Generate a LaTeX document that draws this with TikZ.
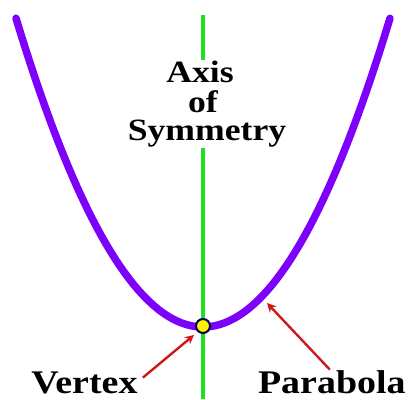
\documentclass[tikz,border=0pt]{standalone}
\usepackage{fontspec}
\setmainfont{Liberation Serif}
\newfontfamily\labelfont[FakeStretch=1.15]{Liberation Serif}
\usetikzlibrary{arrows.meta,positioning}
\definecolor{parapurple}{RGB}{125,0,250}
\definecolor{axisgreen}{RGB}{30,225,30}
\definecolor{arrowred}{RGB}{205,25,25}
\tikzset{every picture/.style={line width=0.75pt}}

\begin{document}
\begin{tikzpicture}[x=1pt,y=-1pt,
    toplbl/.style={font=\labelfont\fontsize{31}{31}\selectfont\bfseries, inner sep=0pt, anchor=base, text height=20pt, text depth=0pt},
    botlbl/.style={font=\labelfont\fontsize{33}{33}\selectfont\bfseries, inner sep=0pt, text height=23pt, text depth=0pt},
    pointer/.style={arrowred, line width=2.4pt, -{Stealth[length=9pt,width=9pt]}}]
    \useasboundingbox (0,0) rectangle (409,399);
    % axis of symmetry
    \node[toplbl] (axisA) at (200,82) {Axis};
    \node[toplbl] (axisB) at (203,112) {of};
    \node[toplbl] (axisC) at (207,140) {Symmetry};
    \coordinate (axtop) at (203,15);
    \coordinate (axgap1) at (203,60);
    \coordinate (axgap2) at (203,148);
    \coordinate (axbot) at (203,399);
    \draw[axisgreen, line width=4.5pt] (axtop) -- (axgap1);
    \draw[axisgreen, line width=4.5pt] (axgap2) -- (axbot);
    
    % the parabola
    \draw[parapurple, line width=7.5pt, line cap=round, domain=-18.7:18.7, samples=80]
        plot ({203+10*\x},{327-0.883*\x*\x});
    
    % vertex
    \node[circle, draw=blue!35!black, fill=yellow, line width=2pt, minimum size=14pt, inner sep=0pt] (vertex) at (203,326) {};
    
    % labels
    \node[botlbl, anchor=base west] (vtxlabel) at (31,393) {Vertex};
    \node[botlbl, anchor=base east] (paralabel) at (406,393) {Parabola};
    \coordinate (vtxtip) at (194,335);
    \coordinate (paratip) at (267,303);
    \draw[pointer] ([shift={(5,8)}]vtxlabel.north east) -- (vtxtip);
    \draw[pointer] ([shift={(-2,0)}]paralabel.north) -- (paratip);
\end{tikzpicture}
\end{document}
